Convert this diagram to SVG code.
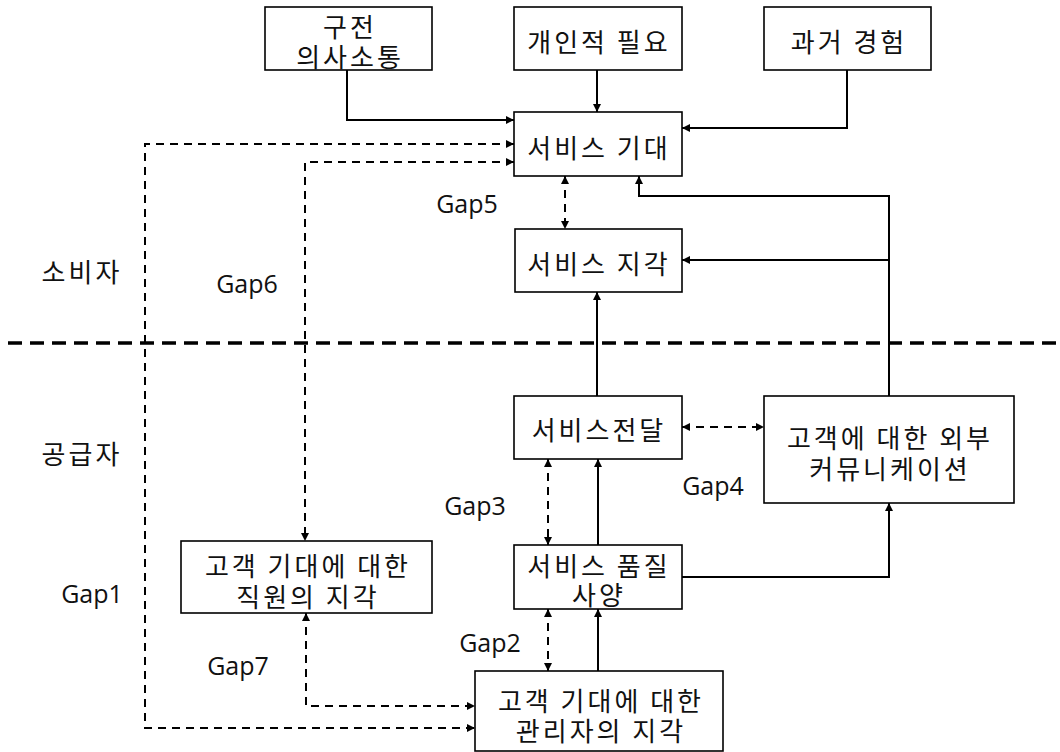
<svg xmlns="http://www.w3.org/2000/svg" width="1060" height="752" viewBox="0 0 1060 752">
<defs>
<marker id="ah" viewBox="0 0 10 10" refX="10" refY="5" markerWidth="9" markerHeight="8" markerUnits="userSpaceOnUse" orient="auto-start-reverse">
<path d="M0,0 L10,5 L0,10 z" fill="#000"/>
</marker>
<style>
.box{fill:#fff;stroke:#000;stroke-width:1.6}
.t{font-family:"Noto Sans CJK KR","Malgun Gothic",sans-serif;font-size:26px;letter-spacing:3px;fill:#111;text-anchor:middle;dominant-baseline:central}
.g{font-family:"Open Sans","Noto Sans",sans-serif;font-size:25px;fill:#111;text-anchor:middle;dominant-baseline:central}
.s{fill:none;stroke:#000;stroke-width:2}
.d{fill:none;stroke:#000;stroke-width:2;stroke-dasharray:8 6}
.sa{marker-end:url(#ah)}
.da{marker-start:url(#ah);marker-end:url(#ah)}
</style>
</defs>
<rect width="1060" height="752" fill="#fff"/>
<line x1="8" y1="343" x2="1060" y2="343" stroke="#000" stroke-width="3.5" stroke-dasharray="14 8"/>
<g id="connectors">
<path class="s sa" d="M347,70 V120 H514"/>
<path class="s sa" d="M597,70 V112"/>
<path class="s sa" d="M847,70 V128 H682"/>
<path class="s sa" d="M889,396 V196 H639 V176"/>
<path class="s sa" d="M889,260 H682"/>
<path class="s sa" d="M597,396 V292"/>
<path class="s sa" d="M598,545 V459"/>
<path class="s sa" d="M598,671 V609"/>
<path class="s sa" d="M682,577 H889 V503"/>
<path class="d da" d="M565,176 V229"/>
<path class="d da" d="M682,427 H764"/>
<path class="d da" d="M548,459 V545"/>
<path class="d da" d="M548,609 V671"/>
<path class="d da" d="M514,144 H145 V728 H475"/>
<path class="d da" d="M514,162 H305 V541"/>
<path class="d da" d="M306,613 V706 H475"/>
</g>
<g id="n-wom"><rect class="box" x="265" y="7" width="167" height="63"/><text class="t" x="350" y="25">구전</text><text class="t" x="350" y="55">의사소통</text></g>
<g id="n-needs"><rect class="box" x="514" y="7" width="168" height="63"/><text class="t" x="599" y="40">개인적 필요</text></g>
<g id="n-past"><rect class="box" x="764" y="7" width="167" height="63"/><text class="t" x="849" y="40">과거 경험</text></g>
<g id="n-expect"><rect class="box" x="514" y="112" width="168" height="64"/><text class="t" x="599" y="146">서비스 기대</text></g>
<g id="n-percept"><rect class="box" x="515" y="229" width="167" height="63"/><text class="t" x="599" y="262">서비스 지각</text></g>
<g id="n-deliver"><rect class="box" x="514" y="396" width="168" height="63"/><text class="t" x="599" y="428">서비스전달</text></g>
<g id="n-extcomm"><rect class="box" x="764" y="396" width="250" height="107"/><text class="t" x="890" y="436">고객에 대한 외부</text><text class="t" x="890" y="467">커뮤니케이션</text></g>
<g id="n-spec"><rect class="box" x="514" y="545" width="168" height="64"/><text class="t" x="599" y="564">서비스 품질</text><text class="t" x="599" y="593">사양</text></g>
<g id="n-employee"><rect class="box" x="181" y="541" width="251" height="72"/><text class="t" x="308" y="564">고객 기대에 대한</text><text class="t" x="308" y="595">직원의 지각</text></g>
<g id="n-manager"><rect class="box" x="475" y="671" width="248" height="80"/><text class="t" x="601" y="699">고객 기대에 대한</text><text class="t" x="601" y="729">관리자의 지각</text></g>
<g id="labels">
<text class="t" x="82" y="270">소비자</text>
<text class="t" x="82" y="452">공급자</text>
<text class="g" x="467" y="203">Gap5</text>
<text class="g" x="247" y="283">Gap6</text>
<text class="g" x="475" y="505">Gap3</text>
<text class="g" x="713" y="485">Gap4</text>
<text class="g" x="92" y="593">Gap1</text>
<text class="g" x="490" y="642">Gap2</text>
<text class="g" x="238" y="665">Gap7</text>
</g>
</svg>
